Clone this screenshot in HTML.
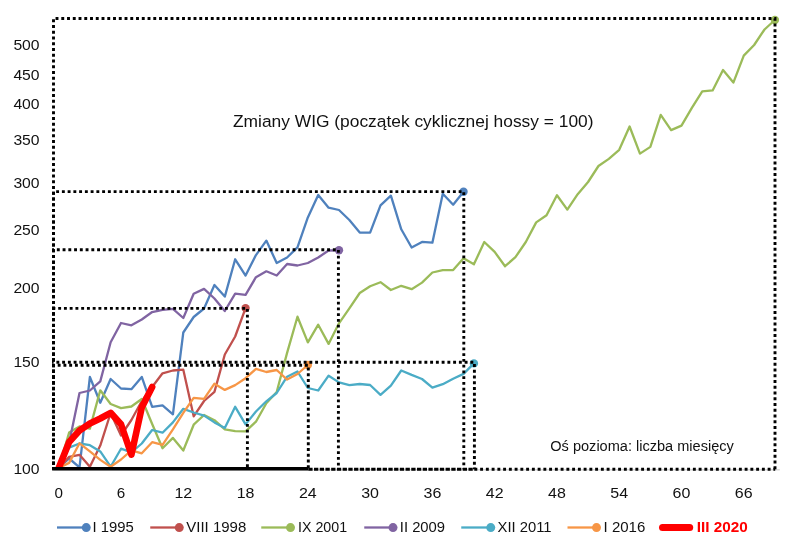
<!DOCTYPE html>
<html lang="pl"><head><meta charset="utf-8"><title>Zmiany WIG</title>
<style>
html,body{margin:0;padding:0;background:#fff;}
body{width:800px;height:551px;overflow:hidden;font-family:"Liberation Sans",sans-serif;}
svg text{font-family:"Liberation Sans",sans-serif;}
</style></head><body>
<svg width="800" height="551" viewBox="0 0 800 551" style="display:block;will-change:transform">
<rect width="800" height="551" fill="#fff"/>
<line x1="53.5" y1="469.8" x2="779.8" y2="469.8" stroke="#D9D9D9" stroke-width="1.5"/>
<defs><clipPath id="pc"><rect x="50" y="0" width="750" height="469.6"/></clipPath></defs>
<g clip-path="url(#pc)">
<polyline fill="none" stroke="#4F81BD" stroke-width="2.3" stroke-linejoin="round" stroke-linecap="round" points="58.75,468.00 69.13,458.50 79.51,467.30 89.89,377.00 100.27,402.80 110.64,379.00 121.02,388.50 131.40,389.20 141.78,376.90 152.16,406.80 162.54,405.40 172.92,414.30 183.30,332.50 193.68,317.00 204.06,308.50 214.44,285.00 224.81,296.60 235.19,259.30 245.57,275.60 255.95,255.10 266.33,240.60 276.71,263.00 287.09,257.50 297.47,247.40 307.85,217.40 318.22,195.00 328.60,207.70 338.98,210.00 349.36,220.00 359.74,232.50 370.12,232.70 380.50,205.30 390.88,195.70 401.26,229.30 411.64,247.50 422.01,241.90 432.39,242.70 442.77,193.80 453.15,204.70 463.53,191.80"/>
<circle cx="463.53" cy="191.80" r="4.2" fill="#4F81BD"/>
<polyline fill="none" stroke="#C0504D" stroke-width="2.3" stroke-linejoin="round" stroke-linecap="round" points="58.75,468.00 69.13,456.90 79.51,454.80 89.89,466.70 100.27,445.60 110.64,413.00 121.02,435.50 131.40,420.00 141.78,401.00 152.16,387.00 162.54,373.30 172.92,370.50 183.30,369.70 193.68,416.30 204.06,401.00 214.44,391.90 224.81,354.50 235.19,336.50 245.57,308.10"/>
<circle cx="245.57" cy="308.10" r="4.2" fill="#C0504D"/>
<polyline fill="none" stroke="#9BBB59" stroke-width="2.3" stroke-linejoin="round" stroke-linecap="round" points="58.75,468.00 69.13,432.60 79.51,426.50 89.89,428.60 100.27,390.30 110.64,404.00 121.02,408.10 131.40,406.50 141.78,399.00 152.16,424.00 162.54,448.20 172.92,437.90 183.30,450.50 193.68,424.70 204.06,415.00 214.44,420.20 224.81,429.40 235.19,431.20 245.57,431.30 255.95,421.70 266.33,403.30 276.71,392.00 287.09,352.90 297.47,316.70 307.85,342.40 318.22,324.70 328.60,343.90 338.98,323.30 349.36,308.40 359.74,293.00 370.12,286.20 380.50,282.20 390.88,290.00 401.26,285.80 411.64,289.20 422.01,282.60 432.39,272.50 442.77,270.10 453.15,270.10 463.53,258.30 473.91,264.30 484.29,242.00 494.67,251.90 505.05,266.20 515.43,257.20 525.81,242.00 536.18,222.40 546.56,215.30 556.94,195.30 567.32,209.60 577.70,194.20 588.08,182.00 598.46,166.00 608.84,158.90 619.22,149.80 629.60,126.50 639.97,153.60 650.35,146.90 660.73,114.90 671.11,130.10 681.49,125.60 691.87,107.90 702.25,91.30 712.63,90.40 723.01,70.00 733.38,82.60 743.76,55.60 754.14,45.00 764.52,29.50 774.90,20.00"/>
<circle cx="774.90" cy="20.00" r="4.2" fill="#9BBB59"/>
<polyline fill="none" stroke="#8064A2" stroke-width="2.3" stroke-linejoin="round" stroke-linecap="round" points="58.75,468.00 69.13,443.00 79.51,393.00 89.89,390.50 100.27,381.40 110.64,342.20 121.02,323.00 131.40,325.30 141.78,319.50 152.16,312.00 162.54,309.80 172.92,308.90 183.30,318.00 193.68,293.80 204.06,288.90 214.44,298.50 224.81,311.00 235.19,293.70 245.57,294.80 255.95,277.20 266.33,271.30 276.71,275.50 287.09,264.00 297.47,265.50 307.85,263.00 318.22,257.50 328.60,250.50 338.98,250.30"/>
<circle cx="338.98" cy="250.30" r="4.2" fill="#8064A2"/>
<polyline fill="none" stroke="#4BACC6" stroke-width="2.3" stroke-linejoin="round" stroke-linecap="round" points="58.75,468.00 69.13,447.60 79.51,443.50 89.89,445.20 100.27,451.40 110.64,466.70 121.02,448.70 131.40,452.40 141.78,443.50 152.16,430.00 162.54,432.70 172.92,422.40 183.30,408.80 193.68,412.50 204.06,415.60 214.44,422.40 224.81,427.90 235.19,406.80 245.57,424.40 255.95,411.50 266.33,401.30 276.71,393.00 287.09,376.70 297.47,371.50 307.85,388.00 318.22,390.50 328.60,375.70 338.98,382.40 349.36,385.20 359.74,384.00 370.12,385.00 380.50,394.90 390.88,385.70 401.26,370.50 411.64,374.90 422.01,379.00 432.39,387.60 442.77,384.20 453.15,378.70 463.53,373.90 473.91,363.40"/>
<circle cx="473.91" cy="363.40" r="4.2" fill="#4BACC6"/>
<polyline fill="none" stroke="#F79646" stroke-width="2.3" stroke-linejoin="round" stroke-linecap="round" points="58.75,468.00 69.13,462.90 79.51,443.30 89.89,451.40 100.27,459.90 110.64,466.70 121.02,459.50 131.40,450.30 141.78,453.30 152.16,442.20 162.54,444.90 172.92,429.30 183.30,412.90 193.68,397.80 204.06,398.90 214.44,383.70 224.81,389.90 235.19,385.10 245.57,378.20 255.95,368.90 266.33,372.00 276.71,370.00 287.09,379.60 297.47,374.00 307.85,365.00"/>
<circle cx="307.85" cy="365.00" r="4.2" fill="#F79646"/>
<polyline fill="none" stroke="#FF0000" stroke-width="6.6" stroke-linejoin="round" stroke-linecap="round" points="58.75,468.00 69.13,442.00 79.51,430.50 89.89,423.50 100.27,418.50 110.64,412.80 121.02,424.20 131.40,454.70 141.78,407.50 152.16,387.00"/>
</g>
<path d="M53.50 469.30 V18.50 H775.00 V469.30" fill="none" stroke="#000" stroke-width="2.9" stroke-dasharray="2.9 2.85" stroke-dashoffset="1.4"/>
<path d="M53.50 469.30 V191.60 H463.80 V469.30" fill="none" stroke="#000" stroke-width="2.9" stroke-dasharray="2.9 2.85" stroke-dashoffset="1.4"/>
<path d="M53.50 469.30 V249.70 H338.40 V469.30" fill="none" stroke="#000" stroke-width="2.9" stroke-dasharray="2.9 2.85" stroke-dashoffset="1.3"/>
<path d="M53.50 469.30 V308.40 H247.40 V469.30" fill="none" stroke="#000" stroke-width="2.9" stroke-dasharray="2.9 2.85" stroke-dashoffset="1.15"/>
<path d="M53.50 469.30 V362.30" fill="none" stroke="#000" stroke-width="2.9" stroke-dasharray="2.9 2.85" stroke-dashoffset="1.0"/>
<path d="M52.05 362.30 H474.40 V469.30" fill="none" stroke="#000" stroke-width="2.9" stroke-dasharray="2.9 2.85" stroke-dashoffset="1.4"/>
<path d="M53.50 469.30 V365.20" fill="none" stroke="#000" stroke-width="2.9" stroke-dasharray="2.9 2.85" stroke-dashoffset="0.8"/>
<path d="M52.05 365.20 H308.30 V469.30" fill="none" stroke="#000" stroke-width="2.9" stroke-dasharray="2.9 2.85" stroke-dashoffset="0.1"/>
<line x1="52.10" y1="468.80" x2="308.3" y2="468.80" stroke="#000" stroke-width="3.6"/>
<line x1="308.3" y1="469.30" x2="474.4" y2="469.30" stroke="#000" stroke-width="3" stroke-dasharray="4.3 1.42"/>
<line x1="474.4" y1="469.30" x2="775.2" y2="469.30" stroke="#000" stroke-width="2.9" stroke-dasharray="2.9 2.85"/>
<text x="39.60" y="50.40" font-family="Liberation Sans, sans-serif" font-size="15.2" text-anchor="end" fill="#111" font-weight="normal" textLength="26.2" lengthAdjust="spacingAndGlyphs">500</text>
<text x="39.60" y="79.90" font-family="Liberation Sans, sans-serif" font-size="15.2" text-anchor="end" fill="#111" font-weight="normal" textLength="26.2" lengthAdjust="spacingAndGlyphs">450</text>
<text x="39.60" y="108.50" font-family="Liberation Sans, sans-serif" font-size="15.2" text-anchor="end" fill="#111" font-weight="normal" textLength="26.2" lengthAdjust="spacingAndGlyphs">400</text>
<text x="39.60" y="145.10" font-family="Liberation Sans, sans-serif" font-size="15.2" text-anchor="end" fill="#111" font-weight="normal" textLength="26.2" lengthAdjust="spacingAndGlyphs">350</text>
<text x="39.60" y="187.60" font-family="Liberation Sans, sans-serif" font-size="15.2" text-anchor="end" fill="#111" font-weight="normal" textLength="26.2" lengthAdjust="spacingAndGlyphs">300</text>
<text x="39.60" y="234.90" font-family="Liberation Sans, sans-serif" font-size="15.2" text-anchor="end" fill="#111" font-weight="normal" textLength="26.2" lengthAdjust="spacingAndGlyphs">250</text>
<text x="39.60" y="292.90" font-family="Liberation Sans, sans-serif" font-size="15.2" text-anchor="end" fill="#111" font-weight="normal" textLength="26.2" lengthAdjust="spacingAndGlyphs">200</text>
<text x="39.60" y="367.40" font-family="Liberation Sans, sans-serif" font-size="15.2" text-anchor="end" fill="#111" font-weight="normal" textLength="26.2" lengthAdjust="spacingAndGlyphs">150</text>
<text x="39.60" y="474.40" font-family="Liberation Sans, sans-serif" font-size="15.2" text-anchor="end" fill="#111" font-weight="normal" textLength="26.2" lengthAdjust="spacingAndGlyphs">100</text>
<text x="58.75" y="498.20" font-family="Liberation Sans, sans-serif" font-size="15.2" text-anchor="middle" fill="#111" font-weight="normal">0</text>
<text x="121.02" y="498.20" font-family="Liberation Sans, sans-serif" font-size="15.2" text-anchor="middle" fill="#111" font-weight="normal">6</text>
<text x="183.30" y="498.20" font-family="Liberation Sans, sans-serif" font-size="15.2" text-anchor="middle" fill="#111" font-weight="normal" textLength="17.8" lengthAdjust="spacingAndGlyphs">12</text>
<text x="245.57" y="498.20" font-family="Liberation Sans, sans-serif" font-size="15.2" text-anchor="middle" fill="#111" font-weight="normal" textLength="17.8" lengthAdjust="spacingAndGlyphs">18</text>
<text x="307.85" y="498.20" font-family="Liberation Sans, sans-serif" font-size="15.2" text-anchor="middle" fill="#111" font-weight="normal" textLength="17.8" lengthAdjust="spacingAndGlyphs">24</text>
<text x="370.12" y="498.20" font-family="Liberation Sans, sans-serif" font-size="15.2" text-anchor="middle" fill="#111" font-weight="normal" textLength="17.8" lengthAdjust="spacingAndGlyphs">30</text>
<text x="432.39" y="498.20" font-family="Liberation Sans, sans-serif" font-size="15.2" text-anchor="middle" fill="#111" font-weight="normal" textLength="17.8" lengthAdjust="spacingAndGlyphs">36</text>
<text x="494.67" y="498.20" font-family="Liberation Sans, sans-serif" font-size="15.2" text-anchor="middle" fill="#111" font-weight="normal" textLength="17.8" lengthAdjust="spacingAndGlyphs">42</text>
<text x="556.94" y="498.20" font-family="Liberation Sans, sans-serif" font-size="15.2" text-anchor="middle" fill="#111" font-weight="normal" textLength="17.8" lengthAdjust="spacingAndGlyphs">48</text>
<text x="619.22" y="498.20" font-family="Liberation Sans, sans-serif" font-size="15.2" text-anchor="middle" fill="#111" font-weight="normal" textLength="17.8" lengthAdjust="spacingAndGlyphs">54</text>
<text x="681.49" y="498.20" font-family="Liberation Sans, sans-serif" font-size="15.2" text-anchor="middle" fill="#111" font-weight="normal" textLength="17.8" lengthAdjust="spacingAndGlyphs">60</text>
<text x="743.76" y="498.20" font-family="Liberation Sans, sans-serif" font-size="15.2" text-anchor="middle" fill="#111" font-weight="normal" textLength="17.8" lengthAdjust="spacingAndGlyphs">66</text>
<text x="233.00" y="126.50" font-family="Liberation Sans, sans-serif" font-size="16.7" text-anchor="start" fill="#111" font-weight="normal" textLength="360.5" lengthAdjust="spacingAndGlyphs">Zmiany WIG (początek cyklicznej hossy = 100)</text>
<text x="550.30" y="450.60" font-family="Liberation Sans, sans-serif" font-size="15.1" text-anchor="start" fill="#111" font-weight="normal" textLength="183.5" lengthAdjust="spacingAndGlyphs">Oś pozioma: liczba miesięcy</text>
<line x1="57" y1="527.5" x2="86.25" y2="527.5" stroke="#4F81BD" stroke-width="2.3"/>
<circle cx="86.25" cy="527.6" r="4.5" fill="#4F81BD"/>
<text x="92.55" y="532.45" font-family="Liberation Sans, sans-serif" font-size="14.8" text-anchor="start" fill="#111" font-weight="normal" textLength="41.25" lengthAdjust="spacingAndGlyphs">I 1995</text>
<line x1="150.25" y1="527.5" x2="179.25" y2="527.5" stroke="#C0504D" stroke-width="2.3"/>
<circle cx="179.25" cy="527.6" r="4.5" fill="#C0504D"/>
<text x="186.30" y="532.45" font-family="Liberation Sans, sans-serif" font-size="14.8" text-anchor="start" fill="#111" font-weight="normal" textLength="60.0" lengthAdjust="spacingAndGlyphs">VIII 1998</text>
<line x1="261.25" y1="527.5" x2="290.5" y2="527.5" stroke="#9BBB59" stroke-width="2.3"/>
<circle cx="290.5" cy="527.6" r="4.5" fill="#9BBB59"/>
<text x="298.05" y="532.45" font-family="Liberation Sans, sans-serif" font-size="14.8" text-anchor="start" fill="#111" font-weight="normal" textLength="49.0" lengthAdjust="spacingAndGlyphs">IX 2001</text>
<line x1="364.25" y1="527.5" x2="393" y2="527.5" stroke="#8064A2" stroke-width="2.3"/>
<circle cx="393" cy="527.6" r="4.5" fill="#8064A2"/>
<text x="399.80" y="532.45" font-family="Liberation Sans, sans-serif" font-size="14.8" text-anchor="start" fill="#111" font-weight="normal" textLength="45.25" lengthAdjust="spacingAndGlyphs">II 2009</text>
<line x1="461.25" y1="527.5" x2="490.75" y2="527.5" stroke="#4BACC6" stroke-width="2.3"/>
<circle cx="490.75" cy="527.6" r="4.5" fill="#4BACC6"/>
<text x="497.55" y="532.45" font-family="Liberation Sans, sans-serif" font-size="14.8" text-anchor="start" fill="#111" font-weight="normal" textLength="54.0" lengthAdjust="spacingAndGlyphs">XII 2011</text>
<line x1="567.5" y1="527.5" x2="596.5" y2="527.5" stroke="#F79646" stroke-width="2.3"/>
<circle cx="596.5" cy="527.6" r="4.5" fill="#F79646"/>
<text x="603.55" y="532.45" font-family="Liberation Sans, sans-serif" font-size="14.8" text-anchor="start" fill="#111" font-weight="normal" textLength="41.75" lengthAdjust="spacingAndGlyphs">I 2016</text>
<line x1="662.5" y1="527.5" x2="689.7" y2="527.5" stroke="#FF0000" stroke-width="7" stroke-linecap="round"/>
<text x="696.80" y="532.45" font-family="Liberation Sans, sans-serif" font-size="14.8" text-anchor="start" fill="#FF0000" font-weight="bold" textLength="51" lengthAdjust="spacingAndGlyphs">III 2020</text>
</svg>
</body></html>
